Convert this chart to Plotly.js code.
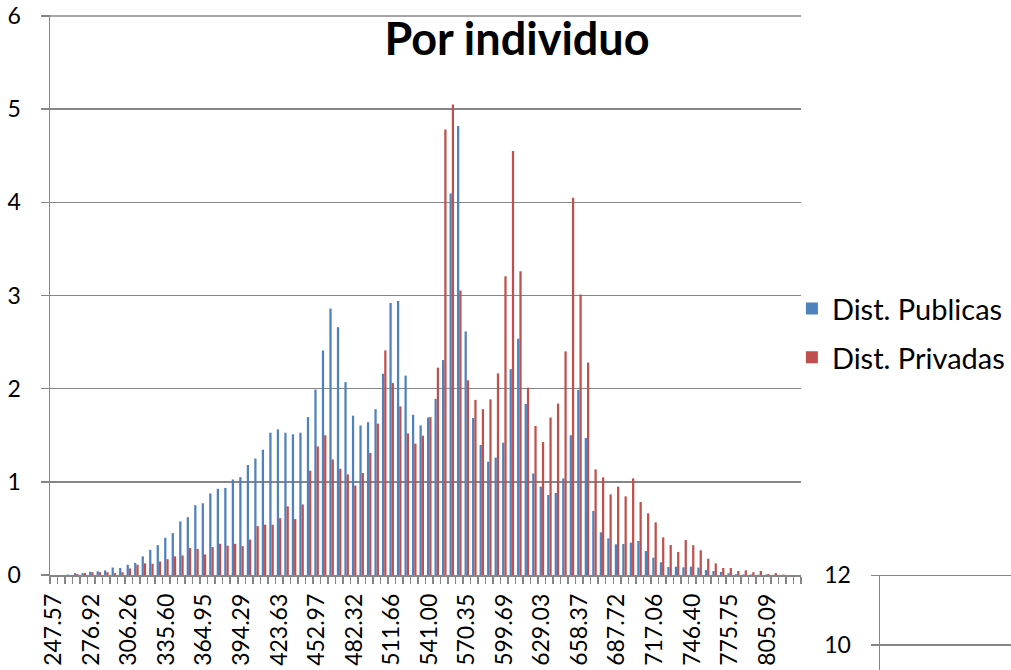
<!DOCTYPE html>
<html>
<head>
<meta charset="utf-8">
<script src="https://cdn.plot.ly/plotly-3.0.1.min.js"></script>
<style>html,body{margin:0;padding:0;background:#fff;}#chart{width:1011px;height:670px;}</style>
</head>
<body>
<div id="chart"></div>
<script>
const categories = [
"247.57","253.44","259.31","265.18","271.05",
"276.92","282.79","288.66","294.53","300.39",
"306.26","312.13","318.00","323.87","329.73",
"335.60","341.47","347.34","353.21","359.07",
"364.95","370.82","376.69","382.56","388.42",
"394.29","400.16","406.03","411.90","417.76",
"423.63","429.50","435.37","441.24","447.10",
"452.97","458.84","464.71","470.58","476.45",
"482.32","488.19","494.06","499.93","505.79",
"511.66","517.53","523.40","529.27","535.13",
"541.00","546.87","552.74","558.61","564.48",
"570.35","576.22","582.09","587.96","593.82",
"599.69","605.56","611.43","617.30","623.16",
"629.03","634.90","640.77","646.64","652.50",
"658.37","664.24","670.11","675.98","681.85",
"687.72","693.59","699.46","705.33","711.19",
"717.06","722.93","728.80","734.67","740.53",
"746.40","752.27","758.14","764.01","769.88",
"775.75","781.62","787.49","793.36","799.22",
"805.09","810.96","816.83","822.70","828.56"
];

const distPublicas = [
0, 0, 0.005, 0.02, 0.02,
0.035, 0.04, 0.05, 0.08, 0.075,
0.11, 0.13, 0.20, 0.27, 0.32,
0.40, 0.45, 0.575, 0.62, 0.75,
0.77, 0.875, 0.925, 0.935, 1.025,
1.05, 1.18, 1.25, 1.345, 1.527,
1.563, 1.527, 1.51, 1.527, 1.695,
1.99, 2.41, 2.86, 2.66, 2.07,
1.71, 1.605, 1.64, 1.78, 2.16,
2.92, 2.94, 2.14, 1.72, 1.605,
1.69, 1.89, 2.307, 4.095, 4.82,
2.614, 1.685, 1.395, 1.216, 1.26,
1.42, 2.21, 2.536, 1.835, 1.09,
0.948, 0.858, 0.88, 1.037, 1.50,
1.985, 1.47, 0.687, 0.458, 0.393,
0.33, 0.333, 0.347, 0.365, 0.258,
0.186, 0.136, 0.086, 0.089, 0.082,
0.09, 0.08, 0.054, 0.043, 0.032,
0.018, 0.008, 0.005, 0.005, 0.003,
0.005, 0.002, 0, 0, 0
];

const distPrivadas = [
0, 0, 0, 0.01, 0.02,
0.03, 0.03, 0.03, 0.02, 0.03,
0.07, 0.11, 0.125, 0.12, 0.145,
0.17, 0.20, 0.21, 0.29, 0.28,
0.22, 0.30, 0.335, 0.315, 0.335,
0.31, 0.38, 0.525, 0.54, 0.54,
0.61, 0.737, 0.60, 0.757, 1.12,
1.38, 1.50, 1.24, 1.14, 1.08,
0.96, 1.095, 1.31, 1.625, 2.41,
2.06, 1.81, 1.52, 1.41, 1.495,
1.695, 2.225, 4.78, 5.05, 3.054,
2.09, 1.88, 1.78, 1.885, 2.164,
3.205, 4.55, 3.26, 2.01, 1.60,
1.427, 1.69, 1.84, 2.40, 4.05,
3.01, 2.28, 1.134, 1.048, 0.866,
0.948, 0.844, 1.037, 0.783, 0.662,
0.565, 0.404, 0.322, 0.247, 0.375,
0.32, 0.265, 0.175, 0.125, 0.075,
0.075, 0.043, 0.05, 0.03, 0.043,
0.01, 0.02, 0.005, 0, 0
];

const seriesNames = ["Dist. Publicas", "Dist. Privadas"];
const chartTitle = "Por individuo";
const yTicks = [0, 1, 2, 3, 4, 5, 6];
const y2Ticks = [10, 12];

const tickText = categories.map((c, i) => (i % 5 === 0 ? c : ""));

const FONT = "Lato, 'Open Sans', sans-serif";
const GRID = "#868686";

const traces = [
  {
    type: "bar", name: seriesNames[0], x: categories, y: distPublicas,
    marker: {color: "#4F81BD", line: {width: 0}},
    legendgroup: "a", xaxis: "x", yaxis: "y"
  },
  {
    type: "bar", name: seriesNames[1], x: categories, y: distPrivadas,
    marker: {color: "#C0504D", line: {width: 0}},
    legendgroup: "b", xaxis: "x", yaxis: "y"
  },
  {
    type: "scatter", mode: "markers", x: [], y: [], xaxis: "x2", yaxis: "y2",
    showlegend: false, hoverinfo: "skip"
  }
];

const topY = yTicks[yTicks.length - 1];
const topY2 = y2Ticks[y2Ticks.length - 1];

const layout = {
  width: 1011, height: 670,
  margin: {l: 50, r: 0, t: 15, b: 0},
  paper_bgcolor: "#ffffff", plot_bgcolor: "rgba(0,0,0,0)",
  font: {family: FONT, size: 23, color: "#000"},
  title: {
    text: chartTitle,
    font: {family: FONT, size: 45, weight: "bold", color: "#000"},
    x: 0.5114, xanchor: "center", xref: "container",
    y: 0.941, yanchor: "middle", yref: "container"
  },
  barmode: "group", bargap: 0.4, bargroupgap: 0,
  showlegend: true,
  legend: {
    x: 0.772, xanchor: "left", y: 0.5905, yanchor: "top",
    font: {family: FONT, size: 29, color: "#000"},
    traceorder: "grouped", tracegroupgap: 8, itemwidth: 30,
    bgcolor: "rgba(0,0,0,0)"
  },
  shapes: [
    {type: "line", xref: "x domain", yref: "y", x0: 0, x1: 1, y0: topY, y1: topY,
     line: {color: GRID, width: 1.5}, layer: "below"},
    {type: "line", xref: "x2 domain", yref: "y2", x0: 0, x1: 1, y0: topY2, y1: topY2,
     line: {color: GRID, width: 1.5}, layer: "below"}
  ],
  xaxis: {
    type: "category", domain: [0, 751/961],
    tickmode: "array", tickvals: categories, ticktext: tickText,
    tickangle: -90, tickson: "boundaries",
    ticks: "outside", ticklen: 7, tickwidth: 1.5, tickcolor: GRID,
    showline: true, linecolor: GRID, linewidth: 1.5,
    showgrid: false, zeroline: false,
    tickfont: {family: FONT, size: 23, color: "#000"},
    ticklabelstandoff: 8,
    anchor: "y"
  },
  yaxis: {
    domain: [95/655, 1], range: [0, 6.01],
    tickmode: "array", tickvals: yTicks,
    ticks: "outside", ticklen: 8, tickwidth: 1.5, tickcolor: GRID,
    showline: true, linecolor: GRID, linewidth: 1.5,
    showgrid: true, gridcolor: GRID, gridwidth: 1.5,
    zeroline: false,
    tickfont: {family: FONT, size: 23, color: "#000"},
    ticklabelstandoff: 15,
    anchor: "x"
  },
  xaxis2: {
    domain: [830/961, 1], range: [0, 1], visible: false, anchor: "y2"
  },
  yaxis2: {
    domain: [0, 95/655], range: [12 - 95/35, 12.01],
    tickmode: "array", tickvals: y2Ticks,
    ticks: "outside", ticklen: 8, tickwidth: 1.5, tickcolor: GRID,
    showline: true, linecolor: GRID, linewidth: 1.5,
    showgrid: true, gridcolor: GRID, gridwidth: 1.5,
    zeroline: false,
    tickfont: {family: FONT, size: 23, color: "#000"},
    ticklabelstandoff: 15,
    anchor: "x2"
  }
};

Plotly.newPlot("chart", traces, layout, {displayModeBar: false, staticPlot: true});
</script>
</body>
</html>
